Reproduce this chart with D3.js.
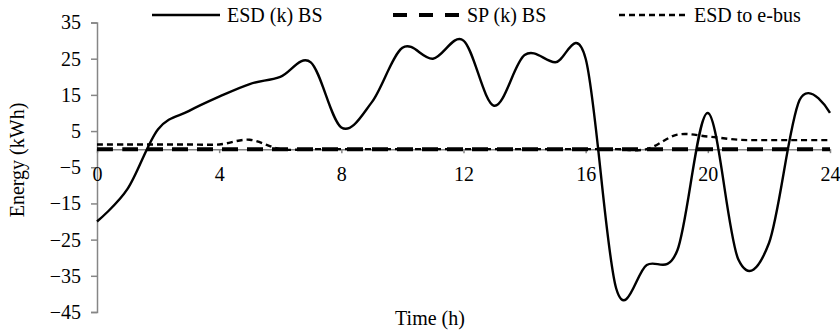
<!DOCTYPE html>
<html>
<head>
<meta charset="utf-8">
<script src="https://cdn.jsdelivr.net/npm/d3@7"></script>
<style>
  html, body { margin: 0; padding: 0; background: #fff; }
  svg { display: block; }
  svg text { font-family: "Liberation Serif", "Times New Roman", "DejaVu Serif", serif; }
</style>
</head>
<body>
<svg id="chart" width="840" height="335"></svg>
<script>
// Hourly energy profile (kWh)
const hours = d3.range(0, 25);
const esdBS = [-20, -11, 5.5, 10.5, 14.5, 18, 20, 24, 6, 13, 28, 25, 30, 12, 26, 24, 25, -38.5, -32, -28, 10, -30.5, -26, 13.5, 10];
const spBS = [0, 0, 0, 0, 0, 0, 0, 0, 0, 0, 0, 0, 0, 0, 0, 0, 0, 0, 0, 0, 0, 0, 0, 0, 0];
const esdToBus = [1.3, 1.3, 1.3, 1.3, 1.3, 2.6, 0, 0, 0, 0, 0, 0, 0, 0, 0, 0, 0, 0, 0, 4.0, 3.5, 2.6, 2.5, 2.5, 2.5];
const xTicks = [0, 4, 8, 12, 16, 20, 24];
const yTicks = [35, 25, 15, 5, -5, -15, -25, -35, -45];

const seriesNames = ["ESD (k) BS", "SP (k) BS", "ESD to e-bus"];

const svg = d3.select("#chart");
const fontSize = 20;
const fontFamily = "'Liberation Serif', 'Times New Roman', 'DejaVu Serif', serif";
const axisColor = "#868686";

const x = d3.scaleLinear().domain([0, 24]).range([97, 830]);
const y = d3.scaleLinear().domain([-45, 35]).range([312, 22.5]);

// Y axis
const yAxis = svg.append("g")
  .attr("transform", `translate(${x(0)},0)`)
  .call(d3.axisLeft(y).tickValues(yTicks).tickSize(6).tickPadding(10).tickFormat(d3.format("d")));
yAxis.attr("font-family", fontFamily).attr("font-size", fontSize);
yAxis.select(".domain").attr("stroke", axisColor).attr("stroke-width", 1.5);
yAxis.selectAll(".tick line").attr("stroke", axisColor).attr("stroke-width", 1.5);
yAxis.selectAll(".tick text").attr("fill", "#000");

// X axis drawn along y = 0
const xAxis = svg.append("g")
  .attr("transform", `translate(0,${y(0)})`)
  .call(d3.axisBottom(x).tickValues(xTicks).tickSize(4).tickSizeOuter(0).tickPadding(14).tickFormat(d3.format("d")));
xAxis.attr("font-family", fontFamily).attr("font-size", fontSize);
xAxis.select(".domain").attr("stroke", axisColor).attr("stroke-width", 1.5);
xAxis.selectAll(".tick line").attr("stroke", axisColor).attr("stroke-width", 1.5);
xAxis.selectAll(".tick text").attr("fill", "#000");

// Series lines (smoothed)
const line = d3.line()
  .x((d, i) => x(hours[i]))
  .y(d => y(d))
  .curve(d3.curveCardinal.tension(0));

const styles = [
  { data: esdBS, width: 2.4, dash: null, legendDash: null },
  { data: spBS, width: 4, dash: "16,9", legendDash: "14,12" },
  { data: esdToBus, width: 2.4, dash: "6,4", legendDash: "6,4" }
];

// Draw e-bus and SP below, the main series on top
[styles[2], styles[1], styles[0]].forEach(s => {
  svg.append("path")
    .datum(s.data)
    .attr("fill", "none")
    .attr("stroke", "#000")
    .attr("stroke-width", s.width)
    .attr("stroke-dasharray", s.dash)
    .attr("d", line);
});

// Legend
const legendItems = [
  { name: seriesNames[0], x1: 152, x2: 220, s: styles[0] },
  { name: seriesNames[1], x1: 393, x2: 460, s: styles[1] },
  { name: seriesNames[2], x1: 619, x2: 687, s: styles[2] }
];
const legend = svg.append("g");
legendItems.forEach(it => {
  legend.append("line")
    .attr("x1", it.x1).attr("x2", it.x2)
    .attr("y1", 15).attr("y2", 15)
    .attr("stroke", "#000")
    .attr("stroke-width", it.s.width)
    .attr("stroke-dasharray", it.s.legendDash);
  legend.append("text")
    .attr("x", it.x2 + 7).attr("y", 22)
    .attr("font-family", fontFamily)
    .attr("font-size", fontSize)
    .text(it.name);
});

// Axis titles
svg.append("text")
  .attr("x", 430).attr("y", 325)
  .attr("text-anchor", "middle")
  .attr("font-family", fontFamily)
  .attr("font-size", fontSize)
  .text("Time (h)");

svg.append("text")
  .attr("transform", `translate(24,160) rotate(-90)`)
  .attr("text-anchor", "middle")
  .attr("font-family", fontFamily)
  .attr("font-size", fontSize)
  .text("Energy (kWh)");
</script>
</body>
</html>
